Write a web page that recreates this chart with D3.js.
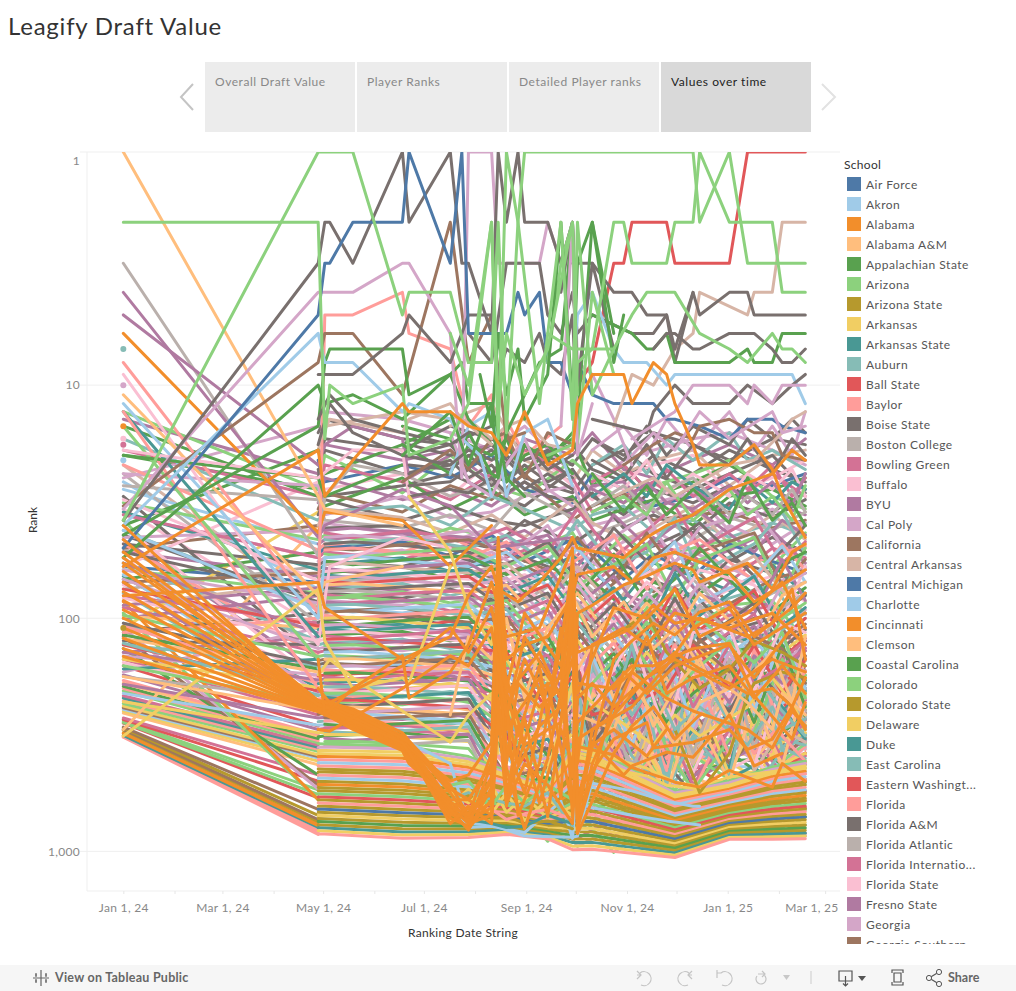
<!DOCTYPE html>
<html><head><meta charset="utf-8">
<script src="https://d3js.org/d3.v7.min.js"></script>
<style>
html,body{margin:0;padding:0;background:#fff;overflow:hidden}
svg{display:block}
text{font-family:Lato,"Open Sans",sans-serif}
</style></head><body><svg id="c" width="1016" height="991"></svg>
<script>
const schools=["Air Force","Akron","Alabama","Alabama A&M","Appalachian State","Arizona","Arizona State","Arkansas","Arkansas State","Auburn","Ball State","Baylor","Boise State","Boston College","Bowling Green","Buffalo","BYU","Cal Poly","California","Central Arkansas","Central Michigan","Charlotte","Cincinnati","Clemson","Coastal Carolina","Colorado","Colorado State","Delaware","Duke","East Carolina","Eastern Washingt...","Florida","Florida A&M","Florida Atlantic","Florida Internatio...","Florida State","Fresno State","Georgia","Georgia Southern"];
const palette=["#4e79a7","#a0cbe8","#f28e2b","#ffbe7d","#59a14f","#8cd17d","#b6992d","#f1ce63","#499894","#86bcb6","#e15759","#ff9d9a","#79706e","#bab0ac","#d37295","#fabfd2","#b07aa1","#d4a6c8","#9d7660","#d7b5a6"];
const tabs=["Overall Draft Value","Player Ranks","Detailed Player ranks","Values over time"];
const rankTicks=[1,10,100,1000];
const dateStrings=["2024-01-01","2024-04-28","2024-05-02","2024-05-05","2024-05-19","2024-06-18","2024-06-22","2024-07-17","2024-07-24","2024-07-28","2024-08-04","2024-08-11","2024-08-15","2024-08-20","2024-08-27","2024-08-31","2024-09-09","2024-09-14","2024-09-22","2024-09-29","2024-10-02","2024-10-11","2024-10-24","2024-10-30","2024-11-04","2024-11-13","2024-11-17","2024-11-25","2024-11-30","2024-12-11","2024-12-15","2025-01-02","2025-01-13","2025-01-17","2025-01-28","2025-02-03","2025-02-09","2025-02-17"];
const _=null;
// Columns of dateStrings used by each of the regular tables
const midCols=[0,1,2,5,7,11,15,19,21,23,26,29,31,34,37];
const mayCols=[2,4,6,9,13,17,20,22,25,28,30,33,35,37];
const lowCols=[1,2,5,9,13,17,19,21,28,31,34,37];
const lateCols=[19,21,24,27,29,31,33,35,37];
// school, then rank at January 1 and at April 28
const fanRanks=[[11,324,845],[11,322,830],[11,320,815],[8,318,790],[2,312,775],[2,310,765],[6,302,745],[18,300,730],[6,296,700],[18,293,660],[10,282,590],[5,280,570],[5,276,545],[10,272,500],[14,268,470],[3,255,425],[7,250,410],[1,246,398],[18,242,392],[7,238,385],[5,232,372],[11,226,365],[8,220,358],[14,215,350],[5,205,342],[11,200,335],[4,196,328],[3,190,320],[11,185,315],[16,175,300],[10,160,290],[14,150,260],[4,135,470],[18,120,520],[17,110,540],[5,95,600],[2,85,600],[9,78,240],[15,72,180],[8,66,200],[0,60,70],[17,55,210],[13,50,130],[16,46,170],[9,42,90],[5,38,250],[15,34,110],[12,30,150],[1,26,75],[19,22,90],[4,20,28],[7,110,35],[3,300,40],[16,140,120],[9,130,160],[17,170,110],[14,90,140],[1,65,230],[12,115,95],[13,75,60],[18,50,40],
[17,36,55],[12,44,85],[16,52,66],[1,28,48],[9,58,125],[4,68,52],[15,40,190],[11,48,145],[13,24,105],[8,35,62],[5,62,78],[14,80,105],[16,100,80],[12,125,130],[19,88,70],[9,105,215],[17,145,175],[4,118,165],[3,98,110],[10,130,205],[15,155,240],[8,165,150],[13,178,225],[11,108,190],[16,70,250]];
// school, then one rank per midCols column
const midRanks=[
[12,_,16,14,17,18,15,19,22,17,20,16,18,21,17,18],
[17,25,15,13,14,16,19,15,24,28,21,19,17,16,19,22],
[16,14,24,18,21,19,26,17,20,16,23,25,21,18,22,17],
[12,_,22,17,19,15,17,21,18,23,26,20,24,19,23,26],
[19,_,19,15,13,14,12,21,26,19,24,21,19,27,20,19],
[4,40,19,24,18,14,25,23,17,27,22,30,26,22,28,25],
[12,_,25,19,24,22,18,25,29,22,19,24,28,24,20,28],
[15,60,26,28,24,30,21,18,27,31,25,22,20,29,25,21],
[5,13,28,20,29,20,27,30,21,25,32,27,24,21,30,34],
[0,_,21,26,22,25,20,28,32,24,28,33,30,25,27,24],
[14,19,30,22,26,31,24,19,25,35,30,26,35,33,24,30],
[12,_,23,30,27,24,29,33,23,30,36,28,32,27,35,29],
[16,_,32,25,31,28,33,26,36,27,26,35,27,38,32,36],
[4,15,30,33,25,34,28,36,30,38,34,31,40,30,28,33],
[18,_,34,29,35,27,31,24,38,33,29,38,36,35,41,38],
[17,24,27,36,30,37,35,30,27,40,37,32,29,42,34,40],
[12,_,36,31,38,33,38,40,34,29,41,36,43,32,37,31],
[9,17,38,35,33,40,30,34,42,36,33,43,38,45,39,44],
[13,27,31,38,41,36,42,29,37,44,39,34,46,37,42,35],
[19,_,40,34,37,43,36,45,31,39,46,41,33,48,36,46],
[17,45,42,39,44,47,41,50,38,55,47,42,52,40,48,39],
[12,_,44,41,40,46,50,38,48,42,54,49,41,57,45,52],
[5,32,46,44,48,41,45,53,43,60,44,56,50,46,60,43],
[16,_,48,46,43,50,47,42,56,47,62,45,59,51,42,58],
[11,22,51,48,52,45,54,47,52,65,50,58,47,63,54,49],
[0,_,53,50,47,54,44,57,46,51,68,53,66,48,57,64],
[14,36,55,52,56,49,58,51,61,71,56,48,54,70,50,55],
[17,_,57,55,51,59,52,62,49,57,74,63,52,61,73,60],
[12,48,59,57,60,53,61,55,66,78,59,69,80,56,64,52],
[8,_,62,59,55,63,57,70,54,62,83,58,66,76,59,79],
[18,70,64,62,66,58,67,60,73,85,65,77,60,87,68,62],
[4,_,67,64,60,68,62,77,58,69,90,70,82,64,93,74],
[15,31,69,67,71,64,72,65,81,95,72,62,91,75,66,85],
[13,_,72,70,66,74,68,84,63,76,99,80,68,98,78,70],
[16,88,74,72,76,69,78,71,90,104,79,88,105,70,90,96],
[9,_,77,75,71,80,73,93,68,83,110,74,93,82,72,110],
[12,52,80,78,82,75,85,78,100,115,86,98,78,113,100,80],
[5,_,83,81,77,86,80,103,75,92,122,83,108,88,84,125],
[17,62,86,84,88,81,92,86,113,128,95,110,85,125,115,92],
[14,_,89,87,83,93,86,115,82,100,138,92,120,97,88,138],
[1,42,92,90,95,88,99,93,125,142,104,122,95,135,130,100],
[18,_,96,94,90,100,94,128,90,112,152,100,132,106,96,152],
[11,115,100,98,102,95,106,103,140,158,114,136,104,150,145,110],
[12,_,104,102,98,108,101,142,100,123,168,110,146,116,106,168],
[10,75,108,106,110,103,115,112,155,175,125,150,114,165,160,122],
[8,_,112,110,106,116,110,158,110,136,185,120,160,128,116,184],
[16,58,116,114,119,111,124,124,172,195,138,165,126,180,175,134],
[4,_,120,118,114,125,118,175,120,150,205,132,176,140,128,200],
[15,82,125,123,128,120,134,137,190,215,152,180,138,198,190,146],
[9,_,130,128,123,135,128,194,132,165,225,145,192,154,140,215],
[17,68,135,133,138,129,145,150,210,235,168,198,152,215,205,160],
[14,_,140,138,133,145,138,215,146,182,245,160,210,168,155,235],
[5,97,146,144,149,140,156,165,230,258,185,216,166,232,225,175],
[18,_,152,150,145,157,150,236,160,200,270,176,230,184,170,255],
[12,105,158,156,161,151,168,182,250,280,202,236,182,252,244,190],
[1,_,164,162,157,169,162,258,176,220,290,192,250,202,186,275],
[3,122,170,168,173,163,180,200,270,300,220,255,200,272,264,208],
[10,_,177,175,169,182,175,280,194,240,315,210,272,220,204,295],
[16,140,184,182,187,176,195,218,295,325,240,276,218,292,285,225],
[8,_,191,189,183,196,190,305,212,262,335,230,295,240,222,318],
[7,150,198,196,201,190,208,238,320,345,262,300,240,315,308,245],
[14,_,206,204,198,212,205,330,232,285,360,252,320,260,242,340],
[9,128,214,212,218,206,224,260,345,370,285,322,262,338,330,265],
[11,_,222,220,214,228,220,355,254,310,385,275,345,285,264,365],
[5,160,231,229,235,222,240,285,370,395,310,350,285,362,355,288],
[15,_,240,238,231,245,236,380,278,335,410,300,370,310,288,390],
[3,178,249,247,254,240,258,312,395,420,338,375,310,385,380,310],
[18,_,258,256,250,264,254,405,305,365,435,330,395,335,315,415],
[16,192,268,266,272,258,276,340,420,445,365,400,335,410,405,335],
[9,_,278,276,268,284,272,430,335,395,460,360,420,360,342,440],
[1,210,288,286,292,278,296,370,445,470,395,430,360,435,430,360],
[14,_,299,297,288,304,292,455,365,425,485,390,445,385,370,465],
[7,228,310,308,312,298,318,400,470,495,425,460,388,460,455,385],
[4,_,322,320,310,326,315,480,395,455,510,420,470,410,398,490]];
// school, then one rank per mayCols column: lines that begin in May
const mayRanks=[
[16,42,41,43,45,48,44,60,36,49,40,35,52,38,44],
[14,43,45,42,47,41,52,34,55,42,33,50,37,58,47],
[17,45,44,46,42,54,40,63,45,36,58,41,34,49,61],
[9,46,48,45,50,44,58,38,60,52,37,64,48,35,53],
[12,48,47,49,52,59,47,68,41,57,47,39,66,51,40],
[18,50,51,48,46,53,62,45,70,43,62,52,43,72,56],
[11,51,50,53,55,47,67,56,44,75,51,46,69,48,62],
[5,53,55,52,50,60,49,72,59,48,82,56,45,78,50],
[1,55,54,57,60,52,73,50,78,62,47,85,66,49,70],
[4,57,59,56,54,65,56,80,53,86,68,50,88,58,52],
[19,59,58,61,64,58,82,60,90,57,93,72,54,76,95],
[16,61,63,60,58,72,61,88,66,100,60,79,96,56,84],
[15,63,62,65,68,62,90,67,105,70,88,62,72,102,60],
[8,65,67,64,62,78,66,98,74,114,64,97,66,108,90],
[17,67,66,69,73,67,100,72,118,78,104,70,116,72,64],
[10,69,71,68,66,85,72,110,80,124,74,112,76,122,100],
[3,72,71,74,78,72,112,78,128,86,118,78,128,80,70],
[12,74,76,73,71,92,78,124,87,136,82,126,86,134,112],
[13,77,76,79,84,78,125,85,142,95,132,88,140,90,78],
[14,79,82,78,76,100,84,135,96,150,92,142,96,150,125],
[5,82,81,85,90,84,138,94,160,104,148,100,158,100,86],
[16,85,87,84,81,108,92,150,106,168,104,156,108,166,138],
[9,88,87,91,97,91,155,103,176,115,164,112,174,112,95],
[1,91,94,90,87,118,100,165,116,186,118,172,120,184,152],
[18,94,93,97,104,99,170,112,195,128,180,124,192,126,106],
[11,97,100,96,93,128,110,180,128,206,130,192,134,204,168],
[7,100,99,104,110,108,186,124,216,140,200,138,212,140,118],
[4,104,107,102,99,140,120,198,142,228,146,210,150,226,185],
[17,107,106,111,118,118,204,136,240,156,222,154,236,156,130],
[8,111,114,109,106,152,132,218,156,252,162,232,166,250,205],
[15,115,114,119,126,128,225,150,262,172,245,170,260,172,145],
[14,119,122,117,113,165,144,238,172,276,180,256,184,276,225],
[10,123,122,127,134,140,248,165,288,190,268,188,286,190,160],
[16,127,130,125,121,180,158,262,190,302,198,280,204,300,248],
[5,131,130,135,143,153,270,182,316,210,294,208,312,210,176],
[12,136,139,133,129,196,172,288,210,330,218,308,224,328,272],
[1,140,139,145,152,168,298,200,345,232,322,230,342,232,194],
[9,145,149,143,138,214,190,315,232,360,240,336,246,358,298],
[3,150,149,155,162,184,326,220,375,256,352,252,374,256,214],
[18,155,159,153,148,234,208,345,256,392,264,368,270,392,326],
[17,161,160,166,174,202,356,242,410,282,385,278,408,282,236],
[11,166,170,164,158,256,228,378,282,428,290,400,296,428,356],
[4,172,171,177,186,222,390,266,445,310,420,306,446,310,260],
[14,178,182,175,170,280,250,412,310,466,318,438,326,466,390],
[7,184,183,189,198,244,425,292,486,340,458,336,486,340,286],
[16,190,195,188,182,306,274,450,340,508,350,478,358,508,425],
[9,197,196,203,212,268,465,322,530,374,500,370,530,374,314],
[15,203,208,201,194,335,300,490,374,552,384,520,392,552,465],
[5,210,209,216,226,294,505,354,576,410,546,406,576,410,345],
[8,218,223,215,208,368,330,535,410,600,420,566,430,600,505],
[10,225,224,232,242,322,550,388,625,450,594,446,626,450,378],
[12,233,238,230,222,402,362,582,450,650,462,618,472,650,550],
[3,241,240,248,258,354,600,426,680,494,648,490,680,494,416],
[17,249,255,246,238,440,396,632,494,708,506,672,518,708,600],
[1,258,257,265,276,390,652,468,740,542,704,538,740,542,456],
[18,267,272,264,256,484,436,688,542,770,556,730,568,770,652],
[11,276,275,284,296,428,710,514,800,596,766,590,804,596,500],
[4,285,291,282,274,530,478,748,596,836,610,792,624,836,710],
[14,295,294,304,316,470,770,565,870,654,832,648,872,654,550],
[9,305,311,302,292,580,525,812,654,905,670,860,686,860,770],
[7,316,315,325,338,516,836,620,940,718,850,712,870,718,604],
[16,327,334,324,314,636,576,880,718,980,736,860,754,870,836],
[5,338,337,347,362,566,905,680,1010,790,870,782,875,790,664],
[13,350,357,346,334,700,632,952,790,980,808,860,828,870,860]];
// school, then one rank per lateCols column: the busy right-hand part
const lateRanks=[
[9,300,260,190,340,230,300,210,270,190],
[3,190,330,250,180,340,210,290,190,280],
[15,260,180,340,260,175,320,180,300,230],
[11,340,290,170,400,270,190,340,220,170],
[7,220,380,300,220,420,260,200,340,310],
[13,380,220,420,310,210,380,300,170,250],
[9,430,340,230,470,330,230,260,330,350],
[16,210,420,360,200,480,340,160,260,200],
[18,460,250,480,380,250,420,330,210,300],
[3,280,470,270,500,380,180,400,300,150],
[14,500,310,440,280,520,300,240,400,270],
[8,170,440,210,430,300,440,180,240,330],
[11,510,200,500,340,560,260,380,280,220],
[7,330,520,290,520,190,470,270,420,380],
[15,150,370,520,240,460,210,430,190,260],
[9,480,160,390,550,320,480,150,360,400],
[5,240,500,160,360,550,330,310,150,210],
[19,400,280,540,190,420,170,450,300,340],
[3,530,210,320,560,250,500,230,430,180],
[12,170,350,200,300,180,250,165,220,145],
[13,310,150,460,160,380,150,360,170,290],
[11,550,420,180,450,160,390,135,320,410],
[16,200,300,140,240,140,230,145,190,125],
[17,290,175,260,150,300,140,220,140,170],
[4,360,230,150,280,210,160,280,130,240],
[9,140,480,130,520,150,280,170,250,320],
[1,520,145,350,140,290,120,250,120,200],
[10,180,260,230,200,130,200,130,210,150],
[14,250,130,280,130,240,130,190,160,135],
[18,130,320,170,170,125,170,120,135,190],
[5,420,190,125,220,170,125,155,115,220],
[15,120,240,120,320,115,110,205,105,115]];
// school, then one rank per lowCols column
const lowRanks=[
[5,345,346,352,392,452,528,352,362,552,498,435,410],
[17,358,357,364,402,462,536,365,375,562,508,445,420],
[7,369,369,375,413,470,545,378,388,575,520,455,430],
[7,380,381,387,425,480,555,392,402,588,530,466,441],
[2,392,392,399,437,491,565,406,416,602,541,478,453],
[11,404,405,412,449,502,575,421,430,616,552,490,465],
[1,417,417,425,462,513,585,436,445,630,563,502,478],
[11,430,430,439,475,524,596,452,461,645,574,515,491],
[6,443,444,453,488,536,607,468,477,660,586,528,504],
[6,457,457,467,502,548,618,485,494,675,598,541,518],
[11,471,472,482,516,560,629,502,511,690,610,554,532],
[1,486,486,498,530,572,640,520,529,706,622,568,546],
[6,501,501,514,545,585,652,539,547,722,634,582,561],
[2,516,517,530,560,598,664,558,566,739,647,597,576],
[6,532,533,547,576,611,676,578,586,756,660,612,592],
[6,549,550,565,592,624,688,599,606,773,673,627,608],
[5,566,567,583,609,638,700,620,627,791,687,643,624],
[10,584,584,602,626,652,713,643,649,809,701,659,641],
[6,602,602,621,643,666,726,666,672,828,715,676,658],
[11,620,621,641,661,681,739,690,695,847,729,693,676],
[6,640,640,661,680,696,752,715,719,866,744,710,694],
[0,660,660,682,699,711,766,741,744,886,759,728,713],
[6,680,681,704,718,727,780,768,770,906,774,746,732],
[7,701,702,727,738,743,794,795,797,927,789,765,752],
[6,723,724,750,759,759,808,824,825,948,805,784,772],
[4,745,746,774,780,776,823,854,854,970,821,804,793],
[6,768,770,799,802,793,838,885,884,992,837,824,814],
[8,792,794,825,824,810,853,917,915,1015,854,845,836],
[7,816,818,851,847,828,868,950,947,1038,871,866,859],
[11,842,843,878,871,846,884,984,980,1062,888,888,882]];
// school, then date index and rank pairs, for lines read point by point
const eliteRanks=[
[17,0,10],[9,0,7],[6,0,110],[2,0,15],[14,0,18],[15,0,17],[1,0,21],
[13,0,3,1,54,2,30,4,22,5,24,7,30,11,26,15,35],
[16,0,4,1,45,2,40,5,28,7,33,11,50,19,45],
[16,0,5,1,22,2,18,4,15,5,17,6,25,7,20,11,18],
[2,0,6,1,43,2,35,5,38,7,60,11,40],
[11,0,8,1,95,2,5,4,5,5,4,6,6,7,7,9,15,11,11,12,20,13,14,15,20,18,15],
[15,0,9,1,130,3,60,5,45,7,50],[3,0,11,1,80,2,70,5,60],[1,0,12,1,100,2,55],[8,0,13,1,120],[11,0,13,1,200],[5,0,15,1,150],[4,0,20,1,25,2,30,5,22],[15,0,19,1,25,4,19,5,19,6,30],
[3,0,1,1,30,2,34,5,40],
[12,6,18,7,20,9,19,11,21,13,19,15,21,17,19,19,22],
[12,6,20,7,18,9,22,11,19,13,22,15,18,17,23,19,20],
[12,6,22,7,23,9,20,11,24,13,20,15,24,17,21,19,25],
[12,6,24,7,21,9,25,11,22,13,26,15,22,17,26,19,23],
[12,6,27,7,26,9,23,11,27,13,24,15,28,17,24,19,28],
[12,6,30,7,28,9,29,11,25,13,29,15,26,17,30,19,31],
[4,5,15,7,17,8,21,9,18,11,20,13,17,14,22,15,18,17,21,19,16],
[4,5,18,7,24,9,16,11,24,13,26,15,20,17,18,19,24],
[18,5,26,7,19,9,23,11,17,13,16,15,25,17,16,19,18],
[17,7,16,9,26,11,30,13,22,15,17,17,28,19,33],
[19,7,15,9,14,11,17,13,15,15,14,17,18,19,19],
[1,7,24,9,15,11,13,13,30,15,16,17,14,19,27],
[9,21,22,23,18,25,24,27,17,29,21,31,16,32,21,34,19,37,23],
[12,21,17,23,21,25,15,27,20,29,15,31,18,32,14,34,17,36,14,37,16],
[17,21,19,23,15,25,20,27,14,29,19,31,13,33,19,34,15,36,20,37,13],
[14,21,26,23,22,25,28,27,23,29,30,31,24,32,28,34,22,36,30,37,25],
[15,21,24,23,28,25,21,27,29,29,24,31,30,32,24,34,28,36,23,37,30],
[12,21,21,23,25,25,18,27,25,29,18,31,22,32,17,34,24,36,17,37,20],
[8,21,30,23,24,25,30,27,22,29,27,31,34,32,26,34,32,36,26,37,28],
[16,21,28,23,32,25,26,27,32,29,34,31,27,32,32,34,26,36,33,37,24],
[13,21,33,23,27,25,34,27,28,29,25,31,36,32,30,34,36,36,28,37,35],
[5,21,35,23,30,25,36,27,26,29,38,31,28,32,36,34,30,36,38,37,27],
[4,21,24,23,35,25,27,27,36,29,28,31,39,32,25,34,38,36,32,37,40],
[18,0,33,1,8,2,6,4,6,5,11,7,2,9,8,11,5,13,17,15,16],
[4,0,44,1,15,2,8,3,7,5,7,6,11,7,9,8,8,9,12,11,12,12,16,13,25,15,30],
[4,0,55,1,10,2,12,4,11,5,14,7,9,9,14,11,18],
[1,0,40,1,6,2,8,4,8,5,13,6,12,7,14,8,17,10,20,11,30],
[19,1,18,3,14,5,16,6,14,7,12,8,14,11,18],
[17,0,34,1,4,4,4,5,3,6,3,7,6,8,25,9,1,11,1,12,3,16,3,17,2,18,3,19,2,20,8,21,9,22,14,24,22],
[12,1,9,2,9,4,9,5,6,6,5,7,8,8,6,9,5,11,5,12,9,13,7,15,8,16,6,17,8,18,9,19,5,20,14],
[12,1,14,3,11,4,14,5,16,7,18,9,16],[12,1,18,3,12,4,16,5,20,7,22,9,19],
[12,0,38,1,3,2,2,3,2,4,3,5,1,6,2,7,1,8,3,9,3,11,6,12,1,13,2,14,1,15,2,17,2,18,3,19,2,20,15],
[12,9,6,11,8,13,3,16,3,17,5,18,6,19,4,20,6,21,5],
[0,0,50,1,5,2,3,3,3,4,2,5,2,6,1,7,3,8,1,9,6,11,6,13,6,14,4,15,5,16,4,17,8,18,8,19,11,20,8,21,11,22,12,26,12,27,14,28,14,30,15,31,17,32,14,34,14,35,15,37,16],
[10,19,14,20,10,21,8,22,3,23,3,24,2,27,2,28,3,31,3,32,1,37,1],
[19,22,15,24,9,26,10,28,7,29,6,30,4,32,5,33,4,34,4,35,2,37,2],
[12,19,3,21,3,22,4,24,4,25,5,27,5,28,8,29,4,30,5,31,4,32,4,33,5,37,5],
[12,21,5,24,6,26,6,27,5,28,7,29,4],
[4,21,5,24,6,25,7,26,7,27,6,28,8,31,8,32,7,33,8,34,8,35,6,37,6],
[12,26,7,27,6,28,6,29,7,30,7,31,6,33,6,34,7,35,8,36,8,37,7],
[1,19,11,20,5,21,4,22,7,23,8,25,8,27,10,28,9,36,9,37,12],
[12,21,14,25,16,26,13,28,10,29,12,31,12,32,10,34,12,36,10,37,9],
[17,24,17,28,13,29,10,31,10,32,12,33,10,34,12,35,10,37,10],
[18,23,22,26,18,28,16,29,17,30,15,31,14,33,16,34,16,35,20,37,21],
[19,22,30,26,25,28,30,31,22,33,21,35,16,36,14,37,13],
[17,24,20,26,16,28,19,30,13,31,17,34,13,35,16,37,15],
[4,5,20,7,13,9,22,11,12,12,25,13,16,15,11,16,8,18,7,19,2,20,14,21,2,22,6],
[5,17,8,18,3,19,2,20,18,21,4,22,9],
[12,18,4,19,2,20,10,21,3,22,7],
[17,18,15,19,2,20,20,21,12],
[4,10,9,11,15,12,6,13,11,14,7,15,14,17,9,18,2,19,12,20,3,21,2,22,8,23,5],
[5,7,6,9,10,11,2,12,17,13,1,14,2,16,12,18,2,19,14,20,2,21,11,22,7],
[5,0,2,1,2,2,17,3,10,4,12,5,10,6,20,7,17,9,12,11,2,12,13,13,6,15,11,17,7,19,2,20,11],
[5,0,38,1,1,4,1,5,5,6,4,7,4,9,8,11,8,12,2,13,16,14,2,15,1,29,1,30,2,31,1,32,3,37,3],
[5,17,20,19,18,20,8,21,7,22,2,23,2,24,3,27,3,28,2,29,2,30,1,31,2,34,2,35,4,37,4],
[5,17,6,19,7,22,7,24,5,25,4,28,4,30,6,31,7,32,8,34,6,35,7,36,7,37,8]];
// later lines that stand out over the dense part of the picture
const accentRanks=[
[1,5,330,7,420,9,760,11,770,15,860,19,870,20,860,21,500],
[1,7,600,9,790,11,780,15,830,18,610,19,880,20,480,21,510,24,550,27,610,29,640,30,640],
[1,20,620,21,650,24,700,27,740,30,770],
[7,0,320,1,75,2,125,4,200,5,180,6,190,7,60],
[7,1,175,3,150,4,180,5,250,7,340,9,260,11,210,12,380],
[7,6,30,7,52,9,90,11,130,12,90,13,150,15,200,17,280,19,200,20,390,22,445,25,475,27,520,30,540],
[7,20,360,22,400,25,440,28,505,30,525,31,480,34,455,37,440],
[7,17,450,19,190,21,230,24,300,26,350,28,260,30,320,32,240,34,180,36,230,37,300],
[7,7,560,9,620,11,520,13,680,15,580,17,720,19,640],
[7,7,640,9,540,11,690,13,560,15,740,17,600,19,700],
[9,7,600,9,560,11,600,13,620,15,640,17,560,19,780],
[6,7,720,9,680,11,720,13,700,15,760,17,740,19,800],
[11,7,680,9,640,11,660,13,730,15,690,17,660,19,730],
[5,7,520,9,500,11,640,13,520,15,620,17,520,19,600],
[8,7,660,9,730,11,760,13,790,15,780,17,700,19,760],
[6,28,300,30,560,31,380,32,215,33,190,35,170,37,180],
[6,22,120,25,95,27,140,30,200,31,165,33,125,35,140,37,160],
[9,22,180,24,260,26,190,28,300,30,240,32,350,34,240,35,300,37,270],
[3,19,180,21,130,22,220,24,160,26,290,28,200,30,150,31,270,32,180,34,140,36,230,37,120],
[3,20,260,22,300,24,190,26,260,28,350,30,230,31,200,32,230,34,300,35,210,37,260],
[3,7,260,9,120,11,150,13,100,15,220,17,110,19,80,21,120,23,85,26,135,28,110,30,160],
[2,0,60,1,19,2,30,4,21,5,12,6,13,7,13,9,15,11,16,13,20,15,13,17,22,19,19,20,12,21,9,22,9,23,9,24,12,26,8,27,9,28,12,29,18,30,22,31,22,33,18,34,23,35,30,37,45],
[2,0,52,1,225,3,230,4,245,5,310,6,335,7,520,9,700,11,620,12,70,13,300,15,230,16,180,17,260,18,130,19,60,20,790,21,420,22,260,25,180,28,150,31,200,34,150,37,170],
[2,0,58,1,228,3,228,4,250,5,320,6,345,7,560,9,720,11,500,12,60,13,420,14,190,16,240,18,200,19,75,20,700,21,300,24,240,27,160,29,110,31,90,33,130,37,95],
[2,0,63,1,230,3,235,4,258,5,325,6,350,7,610,9,730,11,480,12,65,13,260,15,150,17,240,18,170,19,85,20,800,22,230,23,170,25,210,28,160,31,130,33,180,36,110],
[2,0,70,1,232,3,238,4,262,5,330,6,355,7,640,9,760,11,700,12,120,13,240,14,420,16,200,18,180,19,90,20,840,22,380,24,290,26,240,28,330,30,260],
[2,0,77,1,234,3,242,4,268,5,335,6,360,7,670,9,740,11,650,12,140,13,180,15,350,17,300,18,280,19,110,20,600,21,350,22,300,25,390,27,300],
[2,0,84,1,238,3,245,4,272,5,340,6,365,7,700,9,690,11,560,12,50,13,540,16,290,18,240,19,100,20,720,21,340,23,470,24,430,27,375,29,395,31,260,33,430,35,380],
[2,0,92,1,240,3,248,4,278,5,345,6,370,7,720,9,780,11,420,12,180,13,350,15,560,17,190,19,640,20,355,22,385,24,437,27,490,28,505,30,530,31,449,34,530,35,420,37,500],
[2,0,100,1,243,3,252,4,282,5,350,6,380,7,680,9,800,11,600,12,110,14,700,16,420,18,110,19,700,20,220,21,190,22,240,26,170,28,140,30,165,31,190,32,210,34,200,36,240,37,180],
[2,0,110,1,245,3,255,4,288,5,355,6,390,7,660,9,810,11,530,12,85,13,620,14,290,16,620,18,300,19,420,20,280,24,160,26,160,29,135,31,128,33,215,36,330,37,230],
[2,0,122,1,248,3,258,4,292,5,360,6,400,7,640,9,700,11,380,12,80,13,640,15,270,17,710,19,120,20,560,22,330,25,280,26,360,29,340,31,300,32,365,34,330,36,240,37,300],
[2,0,135,1,250,3,262,4,296,5,365,6,410,7,620,9,660,11,560,12,150,14,320,16,160,18,590,19,70,20,650,22,150,24,125,26,105,28,118,30,94,31,85,33,120,36,90,37,78],
[2,0,146,1,252,3,265,4,300,5,370,6,420,7,600,9,600,11,700,12,220,13,440,15,800,17,400,18,210,19,480,20,95,21,88,23,72,25,66,27,60,28,58,29,62,30,70,32,58,34,75,36,52,37,48],
[2,0,40,1,236,3,240,4,265,5,338,6,358,7,500,9,470,11,340,12,45,13,150,15,130,17,120,19,80,20,65,22,60,24,70,26,55,28,52,29,56,31,64,33,85,35,72,37,62],
[2,0,46,1,226,3,232,4,255,5,328,6,340,7,540,9,600,11,420,12,55,13,210,15,170,16,140,18,220,19,55,20,420,21,130,23,110,25,130,28,95,31,110,34,95,37,130],
[2,0,55,1,235,3,244,4,275,5,342,6,375,7,760,9,640,11,760,12,260,13,620,15,420,17,520,19,760,20,330,22,260,25,120,27,210,29,180,31,160,33,220,35,160,37,210],
[2,0,80,1,70,2,90,5,150,7,120,9,80,11,60,12,75,14,85,16,70,18,55,19,45,20,50,23,55,25,45,27,40,29,36,31,28,34,24,36,19,37,21],
[2,1,200,3,230,5,160,7,110,9,140,11,90,13,200,15,95,18,160,19,70,20,140,22,120,24,110,26,88,28,105,30,100,32,120,34,105,36,75,37,150],
[2,1,300,3,305,5,200,7,145,9,160,11,110,13,260,15,120,18,220,19,150,20,190,22,200,24,170,27,220,29,250,32,300,34,360,36,250,37,290],
[22,1,150,2,260,4,200,5,145,6,220,7,170,9,130,11,70,13,120,16,110,19,50,20,210,22,90,25,100,28,75,30,120,32,95,35,70,37,110]];
const parseDate=d3.timeParse("%Y-%m-%d");
const dates=dateStrings.map(parseDate);
const svg=d3.select("#c");
const W=[87,840],H=[152,891];
const x=d3.scaleTime().domain([parseDate("2023-12-10"),parseDate("2025-03-10")]).range(W);
const y=d3.scaleLog().domain([1,1479]).range(H);
// header
svg.append("text").attr("x",8).attr("y",35).attr("font-size",24).attr("fill","#333").attr("letter-spacing",.77).text("Leagify Draft Value");
const tabG=svg.selectAll("g.tab").data(tabs).join("g").attr("class","tab").attr("transform",(d,i)=>`translate(${205+152*i},62)`);
tabG.append("rect").attr("width",150).attr("height",70).attr("fill",(d,i)=>i==3?"#d9d9d9":"#ececec");
tabG.append("text").attr("x",10).attr("y",24).attr("font-size",12).attr("letter-spacing",.55).attr("fill",(d,i)=>i==3?"#222":"#888").text(d=>d);
svg.append("path").attr("d","M193,84L181,97L193,110").attr("fill","none").attr("stroke","#c4c4c4").attr("stroke-width",2);
svg.append("path").attr("d","M822,84L835,97L822,110").attr("fill","none").attr("stroke","#e2e2e2").attr("stroke-width",2);
// axes
const grid=svg.append("g");
grid.selectAll("line").data(rankTicks).join("line").attr("x1",80).attr("x2",W[1]).attr("y1",d=>y(d)).attr("y2",d=>y(d)).attr("stroke","#efefef");
grid.append("line").attr("x1",W[0]).attr("x2",W[0]).attr("y1",H[0]).attr("y2",H[1]).attr("stroke","#efefef");
grid.append("line").attr("x1",W[0]).attr("x2",W[1]).attr("y1",H[1]).attr("y2",H[1]).attr("stroke","#efefef");
const ax=svg.append("g").attr("transform",`translate(0,${H[1]})`).call(d3.axisBottom(x).ticks(d3.timeMonth.every(1)).tickSize(3).tickFormat(d=>d.getMonth()%2==0?d3.timeFormat("%b %-d, %y")(d):""));
ax.select(".domain").remove();ax.selectAll("line").attr("stroke","#e6e6e6");
ax.selectAll("text").attr("font-family","Lato").attr("font-size",12).attr("letter-spacing",.3).attr("fill","#888").attr("dy",15);
// the last tick label is kept inside the plot width, ending at the plot edge
ax.selectAll("text").filter(d=>d3.timeFormat("%Y-%m")(d)=="2025-03").attr("text-anchor","end").attr("x",13);
const ay=svg.append("g").attr("transform",`translate(80,0)`).call(d3.axisLeft(y).tickValues(rankTicks).tickSize(0).tickFormat(d3.format(",")));
ay.select(".domain").remove();ay.selectAll("line").remove();
ay.selectAll("text").attr("font-family","Lato").attr("font-size",12).attr("letter-spacing",.3).attr("fill","#888").attr("x",0).attr("dy",d=>d==1?"1em":".32em");
svg.append("text").attr("transform","translate(37,520) rotate(-90)").attr("text-anchor","middle").attr("font-size",12).attr("fill","#333").text("Rank");
svg.append("text").attr("x",463).attr("y",937).attr("text-anchor","middle").attr("font-size",12).attr("letter-spacing",.3).attr("fill","#333").text("Ranking Date String");
// lines
const series=[];
fanRanks.forEach(r=>series.push({s:r[0],p:[[0,r[1]],[1,r[2]]]}));
midRanks.forEach(r=>series.push({s:r[0],p:midCols.map((c,i)=>[c,r[i+1]]).filter(q=>q[1]!=null)}));
mayRanks.forEach(r=>series.push({s:r[0],p:mayCols.map((c,i)=>[c,r[i+1]])}));
lateRanks.forEach(r=>series.push({s:r[0],p:lateCols.map((c,i)=>[c,r[i+1]])}));
lowRanks.forEach(r=>series.push({s:r[0],p:lowCols.map((c,i)=>[c,r[i+1]])}));
[eliteRanks,accentRanks].forEach(t=>t.forEach(r=>{const p=[];for(let i=1;i<r.length;i+=2)p.push([r[i],r[i+1]]);series.push({s:r[0],p});}));
svg.append("clipPath").attr("id","plot").append("rect").attr("x",W[0]).attr("y",H[0]).attr("width",W[1]-W[0]).attr("height",H[1]-H[0]);
const line=d3.line().x(d=>x(dates[d[0]])).y(d=>y(d[1]));
const plot=svg.append("g").attr("clip-path","url(#plot)");
plot.selectAll("path").data(series.filter(d=>d.p.length>1)).join("path").attr("d",d=>line(d.p)).attr("fill","none").attr("stroke",d=>palette[d.s%20]).attr("stroke-width",3).attr("stroke-linejoin","round").attr("stroke-linecap","round");
plot.selectAll("circle").data(series.filter(d=>d.p.length==1)).join("circle").attr("cx",d=>x(dates[d.p[0][0]])).attr("cy",d=>y(d.p[0][1])).attr("r",3).attr("fill",d=>palette[d.s%20]);
// legend
svg.append("text").attr("x",844).attr("y",169).attr("font-size",12).attr("letter-spacing",.3).attr("fill","#333").text("School");
svg.append("clipPath").attr("id","lg").append("rect").attr("x",840).attr("y",172).attr("width",176).attr("height",772);
const lg=svg.append("g").attr("clip-path","url(#lg)").selectAll("g").data(schools).join("g").attr("transform",(d,i)=>`translate(847,${177+20*i})`);
lg.append("rect").attr("width",14).attr("height",14).attr("fill",(d,i)=>palette[i%20]);
lg.append("text").attr("x",19).attr("y",12).attr("font-size",12).attr("letter-spacing",.5).attr("fill","#555").text(d=>d);
// toolbar
svg.append("rect").attr("y",965).attr("width",1016).attr("height",26).attr("fill","#f6f6f6");
svg.append("text").attr("x",55).attr("y",982).attr("font-size",12.5).attr("font-weight",700).attr("letter-spacing",.25).attr("fill","#666").text("View on Tableau Public");
svg.append("path").attr("d","M41,970V986M33,978H49M36,973V977M46,973V977M36,979V983M46,979V983M37,975H35M47,975H45M37,981H35M47,981H45").attr("stroke","#666").attr("stroke-width",1.2).attr("fill","none");
svg.append("g").attr("fill","none").attr("stroke","#c4c4c4").attr("stroke-width",1.2).selectAll("path").data(["M637,971L641,975L637,979M641,975H637M640,973a7,7 0 1 1 1,12","M692,971L688,975L692,979M688,975H692M689,973a7,7 0 1 0 -1,12","M717,970V978M717,973H721a7,7 0 1 1 1,12","M758,974H765M762,971L765,974L762,977M764,975a5,5 0 1 1 -7,1"]).join("path").attr("d",d=>d);
svg.append("path").attr("d","M783,975H790L786.5,980Z").attr("fill","#c8c8c8");
svg.append("line").attr("x1",811).attr("x2",811).attr("y1",971).attr("y2",984).attr("stroke","#ccc");
svg.append("g").attr("fill","none").attr("stroke","#555").attr("stroke-width",1.2).selectAll("path").data(["M839,971H852V981H839ZM845.5,976V986M843,983.5L845.5,986L848,983.5","M892,973V970H903V973M892,982V985H903V982M894,973H901V982H894Z","M929,978L939,972M929,978L939,984"]).join("path").attr("d",d=>d);
svg.append("path").attr("d","M858,976H866L862,981Z").attr("fill","#555");
svg.selectAll("circle.sh").data([[929,978],[939,972],[939,984]]).join("circle").attr("class","sh").attr("cx",d=>d[0]).attr("cy",d=>d[1]).attr("r",2.6).attr("fill","#f6f6f6").attr("stroke","#555");
svg.append("text").attr("x",948).attr("y",982).attr("font-size",12.5).attr("font-weight",700).attr("fill","#666").text("Share");
</script></body></html>
